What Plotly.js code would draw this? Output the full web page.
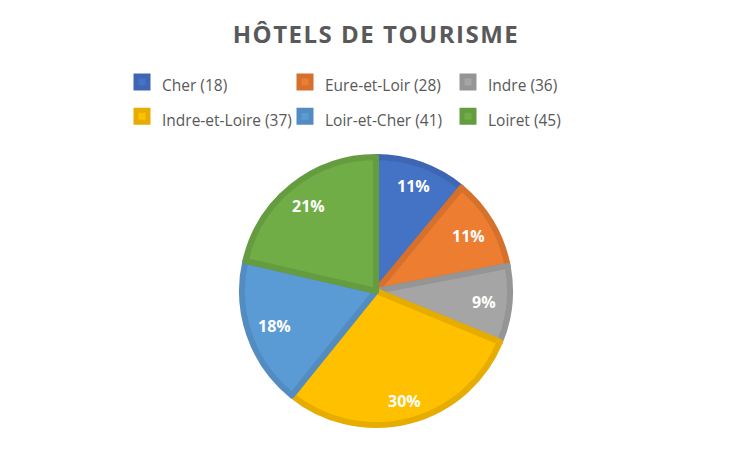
<!DOCTYPE html>
<html>
<head>
<meta charset="utf-8">
<script src="https://cdn.plot.ly/plotly-3.0.1.min.js"></script>
<style>
  body { margin: 0; background: #fff; }
  #chart { width: 752px; height: 453px; outline: 1px solid #d9d9d9; outline-offset: -1px; }
  #chart .gtitle { letter-spacing: 1.5px; }
</style>
</head>
<body>
<div id="chart"></div>
<script>
// ---- Data ----
const departements = ['Cher (18)', 'Eure-et-Loir (28)', 'Indre (36)', 'Indre-et-Loire (37)', 'Loir-et-Cher (41)', 'Loiret (45)'];
const hotels       = [55, 55, 46, 148, 89, 107];

const fillColors   = ['#4472C4', '#ED7D31', '#A5A5A5', '#FFC000', '#5B9BD5', '#70AD47'];
const lineColors   = ['#3E66B2', '#D5712C', '#959595', '#E6AD00', '#528CC0', '#659C40'];

const W = 752, H = 453;
const M = { l: 110, r: 110, t: 0, b: 0 };
const PW = W - M.l - M.r;   // plot area width, keeps the legend at 3 per row

// pie geometry (pixels)
const pieTop = 157, pieBottom = 425;
const cx = W / 2, cy = (pieTop + pieBottom) / 2, R = (pieBottom - pieTop) / 2 + 3;

// percentage labels sit near the outer edge, like Excel's "best fit"
const total = hotels.reduce((a, v) => a + v, 0);
let cum = 0;
const annotations = hotels.map(v => {
  const pct = v / total;
  const theta = (cum + pct / 2) * 2 * Math.PI;
  cum += pct;
  const hw = 16, hh = 8;
  const r = (R - 12) - (hw * Math.abs(Math.sin(theta)) + hh * Math.abs(Math.cos(theta)));
  return {
    x: (cx + r * Math.sin(theta) - M.l) / PW,
    y: 1 - (cy - r * Math.cos(theta)) / H,
    xref: 'paper', yref: 'paper',
    text: '<b>' + Math.round(pct * 100) + '%</b>',
    showarrow: false,
    font: { family: 'Open Sans, sans-serif', size: 16, color: '#ffffff' },
    xanchor: 'center', yanchor: 'middle',
  };
});

const legendLabels = departements.map(d => '<span style="font-size:15.5px">' + d + '</span>');

Plotly.newPlot('chart', [{
  type: 'pie',
  labels: legendLabels,
  values: hotels,
  sort: false,
  direction: 'clockwise',
  rotation: 0,
  marker: { colors: fillColors, line: { color: lineColors, width: 6 } },
  textinfo: 'none',
  hoverinfo: 'label+percent',
  domain: { x: [0, 1], y: [1 - pieBottom / H, 1 - pieTop / H] },
}], {
  width: W,
  height: H,
  margin: M,
  paper_bgcolor: '#ffffff',
  font: { family: 'Open Sans, sans-serif', color: '#595959' },
  title: {
    text: '<b>HÔTELS DE TOURISME</b>',
    font: { family: 'Open Sans, sans-serif', size: 24, color: '#595959' },
    x: 0.5, xanchor: 'center',
    y: 1 - 35 / H, yanchor: 'middle',
  },
  legend: {
    orientation: 'h',
    x: (122 - M.l) / PW, xanchor: 'left',
    y: 1 - 60 / H, yanchor: 'top',
    entrywidth: 118,
    font: { family: 'Open Sans, sans-serif', size: 24, color: '#595959' },
    itemwidth: 30,
  },
  annotations: annotations,
  showlegend: true,
}, { displayModeBar: false, staticPlot: true });
</script>
</body>
</html>
